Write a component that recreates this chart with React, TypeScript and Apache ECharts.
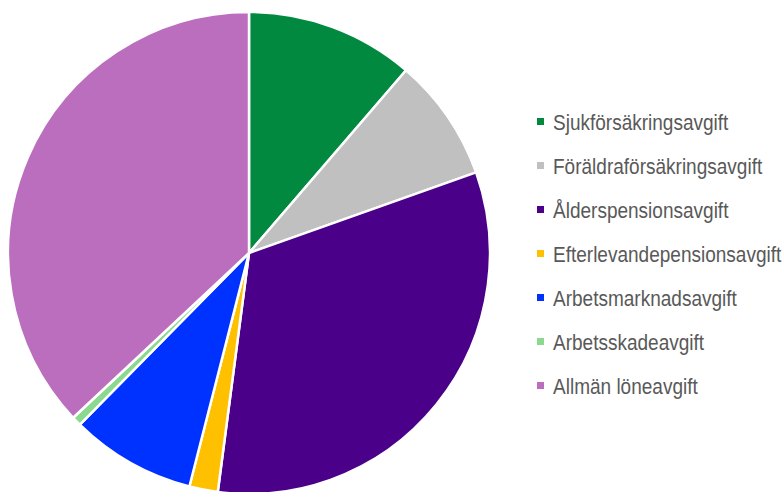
import React, { useEffect, useRef } from "react";
import * as echarts from "echarts";

const categories = [
  "Sjukförsäkringsavgift",
  "Föräldraförsäkringsavgift",
  "Ålderspensionsavgift",
  "Efterlevandepensionsavgift",
  "Arbetsmarknadsavgift",
  "Arbetsskadeavgift",
  "Allmän löneavgift",
];
const values = [3.55, 2.6, 10.21, 0.6, 2.64, 0.2, 11.62];
const colors = ["#00893F", "#C0C0C0", "#4B0089", "#FFC000", "#0032FF", "#8AD98E", "#BC6EBE"];

export default function App() {
  const ref = useRef<HTMLDivElement>(null);
  useEffect(() => {
    const chart = echarts.init(ref.current!, null, { renderer: "svg" });
    const legendItems = categories.map((c, i) => ({
      type: "group",
      children: [
        {
          type: "rect",
          shape: { x: 537, y: 118 + i * 44, width: 7, height: 7 },
          style: { fill: colors[i] },
        },
        {
          type: "text",
          x: 553,
          y: 122 + i * 44,
          scaleX: 0.865,
          style: {
            x: 0,
            y: 0,
            text: c,
            fill: "#595959",
            font: '22px "Liberation Sans", Arial, sans-serif',
            verticalAlign: "middle",
            align: "left",
          },
        },
      ],
    }));
    chart.setOption({
      animation: false,
      color: colors,
      graphic: legendItems,
      series: [
        {
          type: "pie",
          center: [249, 253],
          radius: 241,
          startAngle: 90,
          clockwise: true,
          label: { show: false },
          labelLine: { show: false },
          emphasis: { disabled: true },
          itemStyle: { borderColor: "#ffffff", borderWidth: 2.5 },
          data: categories.map((c, i) => ({ name: c, value: values[i] })),
        },
      ],
    });
    return () => chart.dispose();
  }, []);
  return (
    <div
      ref={ref}
      style={{ width: 784, height: 492, position: "absolute", left: 0, top: 0 }}
    />
  );
}
